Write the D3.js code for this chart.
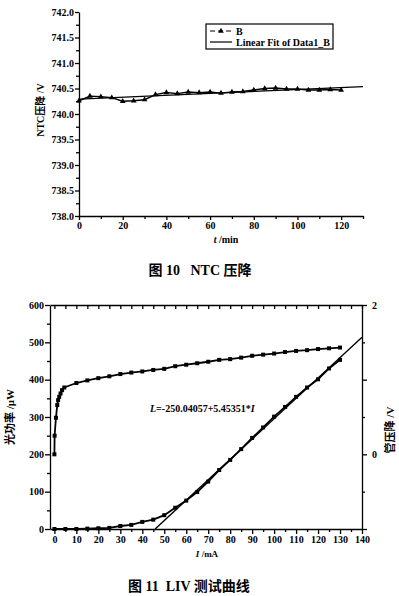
<!DOCTYPE html>
<html>
<head>
<meta charset="utf-8">
<script src="https://cdn.jsdelivr.net/npm/d3@7"></script>
<style>
    body { margin: 0; background: #fff; }
    svg { display: block; }
    .tk text { font-family: "Liberation Serif", serif; font-weight: bold; font-size: 10px; fill: #000; }
    .tk path, .tk line { stroke: #000; stroke-width: 1.3; }
    .lbl { font-family: "Liberation Serif", "Noto Sans CJK SC", serif; font-weight: bold; fill: #000; }
</style>
</head>
<body>
<svg width="399" height="596"></svg>
<script>
// fig 10 data
var ntcTime = [0, 5, 10, 15, 20, 25, 30, 35, 40, 45, 50, 55, 60, 65, 70, 75, 80, 85, 90, 95, 100, 105, 110, 115, 120];
var ntcVolt = [740.26, 740.35, 740.34, 740.32, 740.25, 740.26, 740.28, 740.38, 740.42, 740.40, 740.43, 740.42, 740.43,
               740.41, 740.43, 740.44, 740.47, 740.50, 740.51, 740.49, 740.49, 740.47, 740.47, 740.48, 740.47];
var ntcFitIntercept = 740.29, ntcFitSlope = 0.0019, ntcFitRange = [0, 130];
var ntcYTicks = [738.0, 738.5, 739.0, 739.5, 740.0, 740.5, 741.0, 741.5, 742.0];
var ntcXTicks = [0, 20, 40, 60, 80, 100, 120];

// fig 11 data
var liCurrent = [0, 5, 10, 15, 20, 25, 30, 35, 40, 45, 50, 55, 60, 65, 70, 75, 80, 85, 90, 95, 100, 105, 110, 115, 120, 125, 130];
var liPower = [0, 0, 0, 1, 2, 3, 8, 11, 19, 25, 37, 57, 76, 99, 127, 158, 185, 214, 244, 272, 301, 327, 354, 379, 401, 430, 453];
var ivCurrent = [0, 0.1, 0.7, 1.3, 1.7, 2.2, 2.8, 3.5, 4.5, 10, 15, 20, 25, 30, 35, 40, 45, 50, 55, 60, 65, 70, 75, 80, 85,
                 90, 95, 100, 105, 110, 115, 120, 125, 130];
var ivVolt = [0, 0.25, 0.49, 0.66, 0.725, 0.77, 0.815, 0.86, 0.895, 0.955, 0.99, 1.02, 1.045, 1.075, 1.095, 1.11, 1.13,
              1.145, 1.18, 1.2, 1.22, 1.24, 1.265, 1.275, 1.295, 1.32, 1.335, 1.35, 1.37, 1.385, 1.395, 1.41, 1.42, 1.43];
var liFitIntercept = -250.04057, liFitSlope = 5.45351, liFitRange = [45.85, 140];
var liXTicks = [0, 10, 20, 30, 40, 50, 60, 70, 80, 90, 100, 110, 120, 130, 140];
var liYTicks = [0, 100, 200, 300, 400, 500, 600];
var ivYTicks = [-1, 0, 1, 2];
var ivYLabels = {"0": "0", "2": "2"};

var svg = d3.select("svg");

function minorAxis(g, axisFn, scale, vals, size){
    g.append("g").attr("class", "tk")
     .call(axisFn(scale).tickValues(vals).tickSize(size).tickFormat(""))
     .select(".domain").remove();
}

// fig 10
(function(){
    var x = d3.scaleLinear().domain([0, 130]).range([79, 363]),
        y = d3.scaleLinear().domain([738, 742]).range([216, 12]);
    var g = svg.append("g");

    minorAxis(g.append("g").attr("transform", "translate(0,216)"), d3.axisBottom, x, d3.range(10, 131, 20), 3);
    minorAxis(g.append("g").attr("transform", "translate(79,0)"), d3.axisLeft, y, d3.range(738.25, 742, 0.5), 3);

    g.append("g").attr("class", "tk")
     .attr("transform", "translate(0,216)")
     .call(d3.axisBottom(x).tickValues(ntcXTicks).tickSize(4).tickSizeOuter(0).tickPadding(2));
    g.append("g").attr("class", "tk")
     .attr("transform", "translate(79,0)")
     .call(d3.axisLeft(y).tickValues(ntcYTicks).tickSize(4).tickSizeOuter(0).tickPadding(1).tickFormat(d3.format(".1f")));

    var fitLine = d3.line().x(function(d){ return x(d); })
                    .y(function(d){ return y(ntcFitIntercept + ntcFitSlope * d); });
    g.append("path").datum(ntcFitRange)
     .attr("fill", "none").attr("stroke", "#000").attr("stroke-width", 1.3)
     .attr("d", fitLine);

    var pts = ntcTime.map(function(t, i){ return [t, ntcVolt[i]]; });
    g.append("path").datum(pts)
     .attr("fill", "none").attr("stroke", "#000").attr("stroke-width", 1.4)
     .attr("d", d3.line().x(function(d){ return x(d[0]); }).y(function(d){ return y(d[1]); }));
    g.selectAll(".tri").data(pts).enter().append("path")
     .attr("transform", function(d){ return "translate(" + x(d[0]) + "," + y(d[1]) + ")"; })
     .attr("d", d3.symbol().type(d3.symbolTriangle).size(14))
     .attr("fill", "#000");

    // legend
    var lg = g.append("g");
    lg.append("rect").attr("x", 206).attr("y", 24).attr("width", 127).attr("height", 25)
      .attr("fill", "none").attr("stroke", "#000").attr("stroke-width", 1.2);
    lg.append("line").attr("x1", 210).attr("x2", 232).attr("y1", 31).attr("y2", 31)
      .attr("stroke", "#000").attr("stroke-width", 1.2).attr("stroke-dasharray", "5,3");
    lg.append("path").attr("transform", "translate(221,31)")
      .attr("d", d3.symbol().type(d3.symbolTriangle).size(14)).attr("fill", "#000");
    lg.append("line").attr("x1", 210).attr("x2", 232).attr("y1", 42).attr("y2", 42)
      .attr("stroke", "#000").attr("stroke-width", 1.2);
    lg.append("text").attr("class", "lbl").attr("x", 236).attr("y", 34.5).style("font-size", "10px").text("B");
    lg.append("text").attr("class", "lbl").attr("x", 236).attr("y", 45.5).style("font-size", "10px").text("Linear Fit of Data1_B");

    g.append("text").attr("class", "lbl")
     .attr("transform", "translate(44,110) rotate(-90)")
     .attr("text-anchor", "middle").style("font-size", "10px")
     .text("NTC压降 /V");
    var xt = g.append("text").attr("class", "lbl").attr("x", 226).attr("y", 243)
              .attr("text-anchor", "middle").style("font-size", "10px");
    xt.append("tspan").style("font-style", "italic").text("t");
    xt.append("tspan").text(" /min");

    g.append("text").attr("class", "lbl").attr("x", 200).attr("y", 275)
     .attr("text-anchor", "middle").style("font-size", "14px")
     .attr("xml:space", "preserve").text("图 10   NTC 压降");
})();

// fig 11
(function(){
    var x = d3.scaleLinear().domain([-2, 140]).range([50, 362]),
        yL = d3.scaleLinear().domain([0, 600]).range([529, 305]),
        yR = d3.scaleLinear().domain([-1, 2]).range([529, 305]);
    var g = svg.append("g");

    // frame top
    g.append("g").attr("class", "tk").attr("transform", "translate(0,305)")
     .call(d3.axisBottom(x).tickValues(d3.range(0, 141, 5)).tickSize(4).tickSizeOuter(0).tickFormat(""));

    minorAxis(g.append("g").attr("transform", "translate(0,529)"), d3.axisBottom, x, d3.range(5, 140, 10), 3);
    minorAxis(g.append("g").attr("transform", "translate(50,0)"), d3.axisLeft, yL, d3.range(50, 600, 100), 3);
    minorAxis(g.append("g").attr("transform", "translate(362,0)"), d3.axisRight, yR, [-0.5, 0.5, 1.5], 3);

    g.append("g").attr("class", "tk").attr("transform", "translate(0,529)")
     .call(d3.axisBottom(x).tickValues(liXTicks).tickSize(5).tickSizeOuter(0).tickPadding(2));
    g.append("g").attr("class", "tk").attr("transform", "translate(50,0)")
     .call(d3.axisLeft(yL).tickValues(liYTicks).tickSize(5).tickSizeOuter(0).tickPadding(1));
    g.append("g").attr("class", "tk").attr("transform", "translate(362,0)")
     .call(d3.axisRight(yR).tickValues(ivYTicks).tickSize(5).tickSizeOuter(0).tickPadding(5)
     .tickFormat(function(d){ return ivYLabels[d] || ""; }));

    // linear fit
    g.append("path").datum(liFitRange)
     .attr("fill", "none").attr("stroke", "#000").attr("stroke-width", 1.4)
     .attr("d", d3.line().x(function(d){ return x(d); })
                         .y(function(d){ return yL(liFitIntercept + liFitSlope * d); }));

    var li = liCurrent.map(function(c, i){ return [c, liPower[i]]; });
    var iv = ivCurrent.map(function(c, i){ return [c, ivVolt[i]]; });

    g.append("path").datum(li)
     .attr("fill", "none").attr("stroke", "#000").attr("stroke-width", 1.8)
     .attr("d", d3.line().x(function(d){ return x(d[0]); }).y(function(d){ return yL(d[1]); }));
    g.append("path").datum(iv)
     .attr("fill", "none").attr("stroke", "#000").attr("stroke-width", 1.8)
     .attr("d", d3.line().x(function(d){ return x(d[0]); }).y(function(d){ return yR(d[1]); }));

    g.selectAll(".sqL").data(li).enter().append("rect")
     .attr("x", function(d){ return x(d[0]) - 2; }).attr("y", function(d){ return yL(d[1]) - 2; })
     .attr("width", 4).attr("height", 4).attr("fill", "#000");
    g.selectAll(".sqV").data(iv).enter().append("rect")
     .attr("x", function(d){ return x(d[0]) - 2; }).attr("y", function(d){ return yR(d[1]) - 2; })
     .attr("width", 4).attr("height", 4).attr("fill", "#000");

    var eq = g.append("text").attr("class", "lbl").attr("x", 150).attr("y", 412).style("font-size", "10px");
    eq.append("tspan").style("font-style", "italic").text("L");
    eq.append("tspan").text("=-250.04057+5.45351*");
    eq.append("tspan").style("font-style", "italic").text("I");

    g.append("text").attr("class", "lbl")
     .attr("transform", "translate(14,417) rotate(-90)")
     .attr("text-anchor", "middle").style("font-size", "11px")
     .text("光功率 /μW");
    g.append("text").attr("class", "lbl")
     .attr("transform", "translate(394,430) rotate(-90)")
     .attr("text-anchor", "middle").style("font-size", "11px")
     .text("管压降 /V");

    var xt = g.append("text").attr("class", "lbl").attr("x", 207).attr("y", 557)
              .attr("text-anchor", "middle").style("font-size", "9px");
    xt.append("tspan").style("font-style", "italic").text("I");
    xt.append("tspan").text(" /mA");

    g.append("text").attr("class", "lbl").attr("x", 128).attr("y", 591)
     .style("font-size", "14px")
     .attr("xml:space", "preserve").text("图 11  LIV 测试曲线");
})();
</script>
</body>
</html>
